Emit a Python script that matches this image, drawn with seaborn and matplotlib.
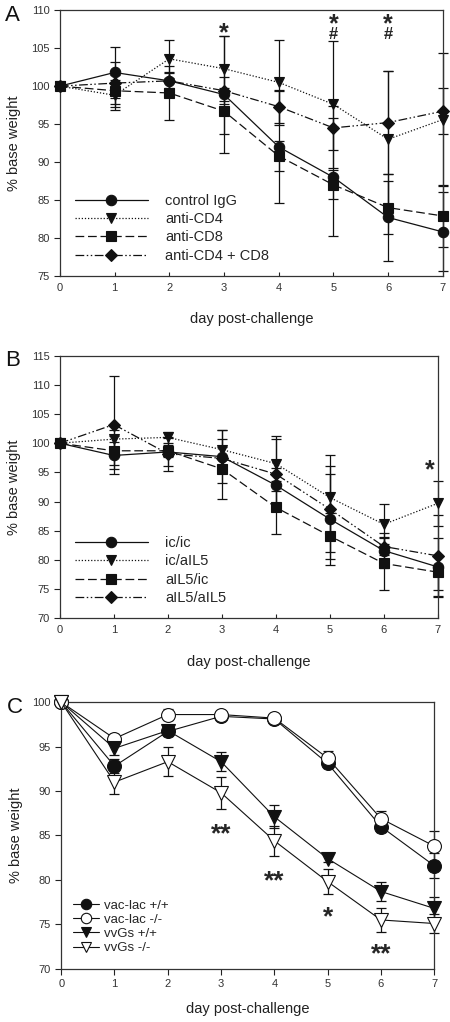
import numpy as np
import pandas as pd
import matplotlib
matplotlib.use("Agg")
import matplotlib.pyplot as plt
import seaborn as sns

days = [0, 1, 2, 3, 4, 5, 6, 7]

# Panel A
a_names = ["control IgG", "anti-CD4", "anti-CD8", "anti-CD4 + CD8"]
a_control = [100, 101.8, 100.7, 98.9, 92.0, 88.0, 82.7, 80.8]
a_cd4 = [100, 98.8, 103.6, 102.3, 100.5, 97.6, 93.0, 95.6]
a_cd8 = [100, 99.4, 99.1, 96.7, 90.8, 87.0, 84.0, 82.9]
a_both = [100, 100.4, 100.7, 99.4, 97.3, 94.5, 95.2, 96.7]
a_control_err = [0, 3.3, 1.0, 7.7, 7.4, 7.8, 5.7, 5.2]
a_cd4_err = [0, 2.0, 2.5, 4.3, 5.6, 8.4, 9.0, 8.8]
a_cd8_err = [0, 2.1, 3.6, 3.0, 2.0, 1.9, 3.5, 4.1]
a_both_err = [0, 2.8, 1.2, 1.8, 2.2, 2.9, 6.8, 3.0]
a_star_days = [3, 5, 6]
a_star_y = [106.1, 107.2, 107.2]
a_hash_days = [5, 6]
a_hash_y = [106.2, 106.2]

# Panel B
b_names = ["ic/ic", "ic/aIL5", "aIL5/ic", "aIL5/aIL5"]
b_icic = [100, 97.9, 98.5, 97.7, 92.8, 87.0, 81.6, 78.8]
b_icail5 = [100, 100.7, 101.0, 98.9, 96.5, 90.7, 86.1, 89.7]
b_ail5ic = [100, 98.7, 98.7, 95.6, 89.0, 84.1, 79.4, 77.9]
b_ail5ail5 = [100, 103.2, 98.2, 97.4, 94.7, 88.7, 82.3, 80.7]
b_icic_err = [0, 2.3, 2.4, 4.5, 3.0, 7.8, 3.0, 5.0]
b_icail5_err = [0, 1.5, 1.0, 3.3, 4.7, 7.3, 3.4, 3.8]
b_ail5ic_err = [0, 2.5, 1.0, 5.2, 4.6, 4.0, 4.6, 3.0]
b_ail5ail5_err = [0, 8.4, 2.9, 2.0, 6.0, 7.4, 1.5, 7.0]
b_star_days = [6.85]
b_star_y = [94.2]

# Panel C
c_names = ["vac-lac +/+", "vac-lac -/-", "vvGs +/+", "vvGs -/-"]
c_vl_wt = [100, 92.8, 96.7, 98.4, 98.1, 93.1, 86.0, 81.6]
c_vl_ko = [100, 95.9, 98.6, 98.6, 98.2, 93.7, 86.9, 83.8]
c_vg_wt = [100, 94.8, 96.8, 93.3, 87.1, 82.4, 78.7, 76.8]
c_vg_ko = [100, 91.0, 93.3, 89.8, 84.4, 79.8, 75.5, 75.1]
c_vl_wt_err = [0, 0.8, 0.5, 0.3, 0.2, 0.5, 0.6, 1.4]
c_vl_ko_err = [0, 0.5, 0.6, 0.3, 0.2, 0.8, 0.8, 1.7]
c_vg_wt_err = [0, 0.8, 0.5, 1.1, 1.3, 0.4, 1.1, 1.3]
c_vg_ko_err = [0, 1.3, 1.6, 1.8, 1.7, 1.4, 1.4, 1.1]
c_star_days = [3, 4, 5, 6]
c_star_text = ["**", "**", "*", "**"]
c_star_y = [84.4, 79.1, 75.0, 70.9]

sns.set_style("ticks")
plt.rcParams["font.family"] = ["Liberation Sans", "DejaVu Sans"]
plt.rcParams["axes.linewidth"] = 0.9

fig = plt.figure(figsize=(4.5, 10.22), dpi=100)
axA = fig.add_axes([0.133, 0.730, 0.851, 0.260])
axB = fig.add_axes([0.133, 0.395, 0.840, 0.257])
axC = fig.add_axes([0.136, 0.052, 0.829, 0.261])

ink = "#111111"
dot = (0, (1, 1.5))
dash = (0, (7, 3))
dashdotdot = (0, (7, 2, 1.2, 2, 1.2, 2))


def draw_series(ax, y, err, name, marker, ls, lw=0.9, mfc=ink, ms=7.5):
    df = pd.DataFrame({"day": days, "w": y})
    sns.lineplot(data=df, x="day", y="w", ax=ax, color=ink, linestyle=ls,
                 linewidth=lw, marker=marker, markersize=ms, markerfacecolor=mfc,
                 markeredgecolor=ink, markeredgewidth=0.8, label=name,
                 clip_on=False, zorder=3)
    ax.errorbar(days, y, yerr=err, fmt="none", ecolor=ink, elinewidth=0.9,
                capsize=3.6, capthick=0.9, clip_on=False, zorder=2)


def style_axes(ax, ylo, yhi, letter, xdir="in", xpad=14):
    ax.set_xlim(0, 7)
    ax.set_ylim(ylo, yhi)
    ax.set_xticks(days)
    ax.set_yticks(np.arange(ylo, yhi + 1, 5))
    ax.tick_params(labelsize=8, width=0.8, colors="#222222", labelcolor="#333333")
    ax.tick_params(axis="y", direction="out", length=4)
    ax.tick_params(axis="x", direction=xdir, length=3 if xdir == "in" else 4,
                   pad=5 if xdir == "in" else 3.5)
    for s in ax.spines.values():
        s.set_visible(True)
        s.set_color("#333333")
    ax.set_xlabel("day post-challenge", fontsize=10.5, labelpad=xpad, color="#222222")
    ax.set_ylabel("% base weight", fontsize=10.5, labelpad=7, color="#222222")
    ax.text(-0.125, 0.98, letter, transform=ax.transAxes, fontsize=16,
            va="center", ha="center", color=ink)


# Panel A
draw_series(axA, a_control, a_control_err, a_names[0], "o", "-")
draw_series(axA, a_cd4, a_cd4_err, a_names[1], "v", dot)
draw_series(axA, a_cd8, a_cd8_err, a_names[2], "s", dash, ms=7)
draw_series(axA, a_both, a_both_err, a_names[3], "D", dashdotdot, ms=6.5)
style_axes(axA, 75, 110, "A")
for d, yv in zip(a_star_days, a_star_y):
    axA.text(d, yv, "*", ha="center", va="baseline", fontsize=18, fontweight="bold")
for d, yv in zip(a_hash_days, a_hash_y):
    axA.text(d, yv, "#", ha="center", va="baseline", fontsize=12, fontweight="bold")
axA.legend(loc="lower left", bbox_to_anchor=(0.005, 0.0), frameon=False,
           fontsize=10.5, handlelength=5.0, handletextpad=1.2, labelspacing=0.3)

# Panel B
draw_series(axB, b_icic, b_icic_err, b_names[0], "o", "-")
draw_series(axB, b_icail5, b_icail5_err, b_names[1], "v", dot)
draw_series(axB, b_ail5ic, b_ail5ic_err, b_names[2], "s", dash, ms=7)
draw_series(axB, b_ail5ail5, b_ail5ail5_err, b_names[3], "D", dashdotdot, ms=6.5)
style_axes(axB, 70, 115, "B")
for d, yv in zip(b_star_days, b_star_y):
    axB.text(d, yv, "*", ha="center", va="baseline", fontsize=18, fontweight="bold")
axB.legend(loc="lower left", bbox_to_anchor=(0.005, 0.0), frameon=False,
           fontsize=10.5, handlelength=5.0, handletextpad=1.2, labelspacing=0.3)

# Panel C
draw_series(axC, c_vl_wt, c_vl_wt_err, c_names[0], "o", "-", lw=0.8, ms=10)
draw_series(axC, c_vl_ko, c_vl_ko_err, c_names[1], "o", "-", lw=0.8, mfc="white", ms=10)
draw_series(axC, c_vg_wt, c_vg_wt_err, c_names[2], "v", "-", lw=0.8, ms=10)
draw_series(axC, c_vg_ko, c_vg_ko_err, c_names[3], "v", "-", lw=0.8, mfc="white", ms=10)
style_axes(axC, 70, 100, "C", xdir="out", xpad=9)
for d, t, yv in zip(c_star_days, c_star_text, c_star_y):
    axC.text(d, yv, t, ha="center", va="baseline", fontsize=19, fontweight="bold")
axC.legend(loc="lower left", bbox_to_anchor=(0.0, 0.01), frameon=False,
           fontsize=9.5, handlelength=2.0, handletextpad=0.35, labelspacing=0.15,
           markerscale=0.75)

fig.savefig("out.png", dpi=100)
